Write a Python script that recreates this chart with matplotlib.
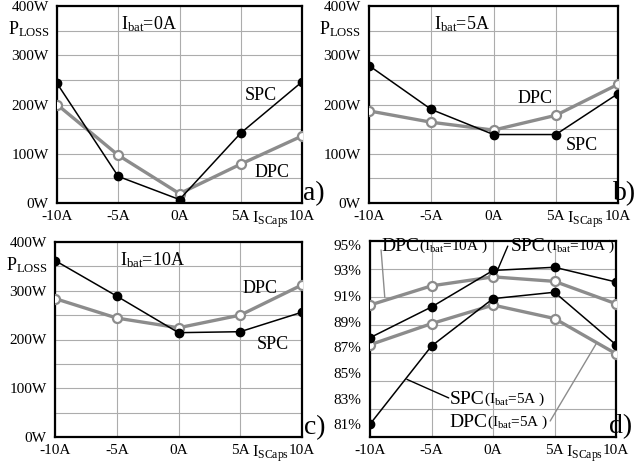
import numpy as np
import matplotlib
matplotlib.use("Agg")
import matplotlib.pyplot as plt

plt.rcParams["font.family"] = ["Liberation Serif", "DejaVu Serif"]
plt.rcParams["mathtext.fontset"] = "custom"
plt.rcParams["mathtext.rm"] = "Liberation Serif"
plt.rcParams["mathtext.it"] = "Liberation Serif:italic"

# x axis: supercapacitor current
i_scaps = [-10, -5, 0, 5, 10]
x_labels = ["-10A", "-5A", "0A", "5A", "10A"]

# power loss panels (W)
loss_ticks = [0, 100, 200, 300, 400]
loss_labels = ["0W", "100W", "200W", "300W", "400W"]
spc_0a = [243, 54, 7, 142, 246]
dpc_0a = [200, 97, 19, 79, 136]
spc_5a = [279, 190, 139, 139, 222]
dpc_5a = [187, 164, 148, 178, 241]
spc_10a = [362, 289, 214, 216, 256]
dpc_10a = [284, 244, 224, 250, 312]

# efficiency panel (%)
eff_ticks = [81, 83, 85, 87, 89, 91, 93, 95]
eff_labels = ["81%", "83%", "85%", "87%", "89%", "91%", "93%", "95%"]
eff_spc_10a = [87.75, 90.15, 93.0, 93.25, 92.1]
eff_dpc_10a = [90.3, 91.8, 92.5, 92.15, 90.4]
eff_spc_5a = [81.0, 87.1, 90.8, 91.3, 87.2]
eff_dpc_5a = [87.2, 88.85, 90.3, 89.25, 86.5]

GRAY = "#8c8c8c"
W, H = 636, 466


def add_ax(fig, l, t, r, b):
    return fig.add_axes([l / W, 1 - b / H, (r - l) / W, (b - t) / H])


def style(ax):
    ax.set_xlim(-10, 10)
    ax.set_xticks(i_scaps)
    ax.set_xticklabels(x_labels)
    ax.grid(True, which="both", color="#acacac", lw=0.8)
    ax.tick_params(which="both", length=0, labelsize=11, pad=5)
    ax.tick_params(axis="y", pad=6)
    for s in ax.spines.values():
        s.set_linewidth(1.6)
    ax.set_axisbelow(True)
    ax.text(0.796, -0.1, r"I$_{\rm SCaps}$", transform=ax.transAxes,
            fontsize=12, va="baseline", clip_on=False)


def draw(ax, spc, dpc):
    ax.plot(i_scaps, dpc, color=GRAY, lw=2.4, marker="o", ms=6.5,
            mfc="white", mec=GRAY, mew=1.6, zorder=3)
    ax.plot(i_scaps, spc, color="black", lw=1.1, marker="o", ms=6,
            mfc="black", mec="black", zorder=4)


def loss_panel(ax, spc, dpc, title, letter, lx):
    style(ax)
    ax.set_ylim(0, 400)
    ax.set_yticks(loss_ticks)
    ax.set_yticklabels(loss_labels)
    ax.set_yticks(np.arange(50, 400, 100), minor=True)
    draw(ax, spc, dpc)
    ax.text(-4.75, 352, title, fontsize=13, va="baseline")
    ax.text(-0.2, 0.855, r"P$_{\rm LOSS}$", transform=ax.transAxes,
            fontsize=13, va="baseline", clip_on=False)
    ax.text(lx, 0.015, letter, transform=ax.transAxes, fontsize=20,
            va="baseline", clip_on=False)


fig = plt.figure(figsize=(W / 100, H / 100), dpi=100)

ax_a = add_ax(fig, 57, 6, 302, 203)
loss_panel(ax_a, spc_0a, dpc_0a, r"I$_{\rm bat}$=0A", "a)", 1.004)
ax_a.text(5.35, 209, "SPC", fontsize=13, va="baseline")
ax_a.text(6.15, 53, "DPC", fontsize=13, va="baseline")

ax_b = add_ax(fig, 369, 6, 618, 203)
loss_panel(ax_b, spc_5a, dpc_5a, r"I$_{\rm bat}$=5A", "b)", 0.98)
ax_b.text(5.8, 108, "SPC", fontsize=13, va="baseline")
ax_b.text(1.95, 203, "DPC", fontsize=13, va="baseline")

ax_c = add_ax(fig, 55, 242, 302, 437)
loss_panel(ax_c, spc_10a, dpc_10a, r"I$_{\rm bat}$=10A", "c)", 1.01)
ax_c.text(6.35, 180, "SPC", fontsize=13, va="baseline")
ax_c.text(5.15, 295, "DPC", fontsize=13, va="baseline")

# efficiency panel
ax_d = add_ax(fig, 370, 241, 616, 437)
style(ax_d)
ax_d.set_ylim(80, 95.3)
ax_d.set_yticks(eff_ticks)
ax_d.set_yticklabels(eff_labels)
ax_d.grid(False, which="major", axis="y")
ax_d.set_yticks(np.linspace(80, 95.3, 8)[1:-1], minor=True)
draw(ax_d, eff_spc_10a, eff_dpc_10a)
draw(ax_d, eff_spc_5a, eff_dpc_5a)
ax_d.text(0.97, 0.02, "d)", transform=ax_d.transAxes, fontsize=20,
          va="baseline", clip_on=False)


def label_d(ax, x, y, name, ibat):
    t = ax.text(x, y, name, fontsize=14, va="baseline")
    ax.annotate(r"(I$_{\rm bat}$=" + ibat + " )", xy=(1, 0), xycoords=t,
                fontsize=11, va="bottom")


label_d(ax_d, -9.1, 94.55, "DPC", "10A")
label_d(ax_d, 1.45, 94.55, "SPC", "10A")
label_d(ax_d, -3.55, 82.6, "SPC", "5A")
label_d(ax_d, -3.55, 80.75, "DPC", "5A")

ax_d.annotate("", xy=(-8.8, 90.9), xytext=(-9.1, 94.6),
              arrowprops=dict(arrowstyle="-", color=GRAY, lw=1.0,
                              shrinkA=0, shrinkB=0))
ax_d.annotate("", xy=(0.4, 93.1), xytext=(1.2, 94.9),
              arrowprops=dict(arrowstyle="-", color="black", lw=1.0,
                              shrinkA=0, shrinkB=0))
ax_d.annotate("", xy=(-7.0, 84.5), xytext=(-3.6, 83.05),
              arrowprops=dict(arrowstyle="-", color="black", lw=1.0,
                              shrinkA=0, shrinkB=0))
ax_d.annotate("", xy=(8.4, 87.3), xytext=(4.65, 81.25),
              arrowprops=dict(arrowstyle="-", color=GRAY, lw=1.0,
                              shrinkA=0, shrinkB=0))

fig.savefig("out.png", dpi=100)
